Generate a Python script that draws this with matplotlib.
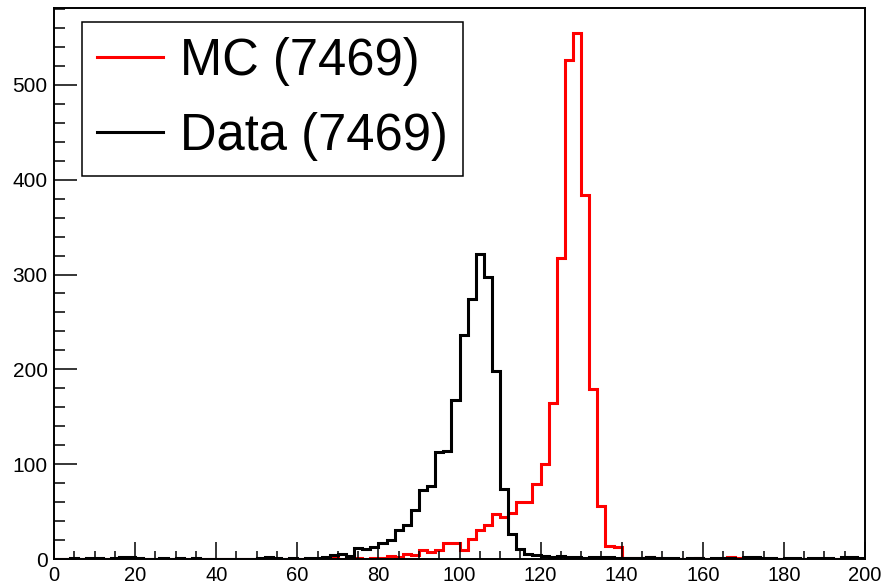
#!/usr/bin/env python3

import numpy as np
import matplotlib
matplotlib.use("Agg")
import matplotlib.pyplot as plt
from matplotlib.ticker import MultipleLocator

# histogram binning: 100 bins from 0 to 200
bin_edges = np.linspace(0, 200, 101)

# counts per bin
data_counts = [
    0, 0, 1, 0, 1, 1, 0, 1, 2, 2,
    1, 0, 0, 1, 0, 1, 0, 1, 0, 0,
    0, 0, 0, 0, 0, 1, 2, 1, 0, 1,
    0, 1, 1, 2, 4, 5, 3, 12, 11, 13,
    17, 20, 31, 36, 52, 73, 77, 113, 114, 168,
    236, 274, 322, 297, 198, 74, 26, 11, 5, 4,
    3, 2, 3, 2, 2, 1, 2, 2, 2, 1,
    1, 1, 1, 2, 1, 1, 1, 0, 1, 1,
    0, 1, 1, 1, 0, 2, 2, 1, 1, 0,
    1, 1, 0, 1, 1, 1, 0, 2, 2, 1,
]

mc_counts = [
    0, 0, 0, 0, 0, 0, 0, 0, 0, 0,
    0, 0, 0, 0, 0, 0, 0, 0, 0, 0,
    0, 0, 0, 0, 0, 0, 0, 0, 0, 0,
    0, 0, 0, 0, 1, 0, 1, 1, 0, 1,
    1, 3, 2, 5, 4, 10, 7, 9, 17, 17,
    10, 21, 31, 36, 48, 44, 49, 60, 60, 79,
    100, 165, 317, 526, 555, 384, 179, 56, 14, 13,
    1, 1, 1, 2, 1, 0, 0, 0, 0, 1,
    0, 0, 0, 2, 1, 0, 0, 0, 0, 0,
    0, 0, 0, 0, 0, 0, 0, 0, 0, 0,
]

mc_label = "MC (7469)"
data_label = "Data (7469)"

plt.rcParams['font.family'] = ['Liberation Sans', 'DejaVu Sans']

fig = plt.figure(figsize=(8.84, 5.85), dpi=100)
ax = fig.add_axes([0.0611, 0.0444, 0.9174, 0.9419])

# the two histograms
ax.stairs(mc_counts, bin_edges, color='#ff0000', linewidth=2.2, label=mc_label)
ax.stairs(data_counts, bin_edges, color='black', linewidth=2.2, label=data_label)

ax.set_xlim(0, 200)
ax.set_ylim(0, 581)

# ROOT-like ticks: inside, only bottom and left
ax.xaxis.set_major_locator(MultipleLocator(20))
ax.xaxis.set_minor_locator(MultipleLocator(5))
ax.yaxis.set_major_locator(MultipleLocator(100))
ax.yaxis.set_minor_locator(MultipleLocator(20))
ax.tick_params(axis='x', which='major', direction='in', length=12, width=1.1,
               labelsize=14.5, pad=5, top=False)
ax.tick_params(axis='x', which='minor', direction='in', length=6, width=1.1, top=False)
ax.tick_params(axis='y', which='major', direction='in', length=16.5, width=1.1,
               labelsize=15, pad=4.5, right=False)
ax.tick_params(axis='y', which='minor', direction='in', length=8, width=1.1, right=False)

for sp in ax.spines.values():
    sp.set_linewidth(1.4)

leg = ax.legend(loc='upper left', bbox_to_anchor=(0.0345, 0.9746), fontsize=36.5,
                frameon=True, fancybox=False, edgecolor='black', framealpha=1,
                borderaxespad=0, borderpad=0.3, handlelength=1.3,
                handletextpad=0.34, labelspacing=0.5)
leg.get_frame().set_linewidth(1.1)
for line in leg.get_lines():
    line.set_linewidth(2.2)

fig.savefig("out.png", dpi=100)
